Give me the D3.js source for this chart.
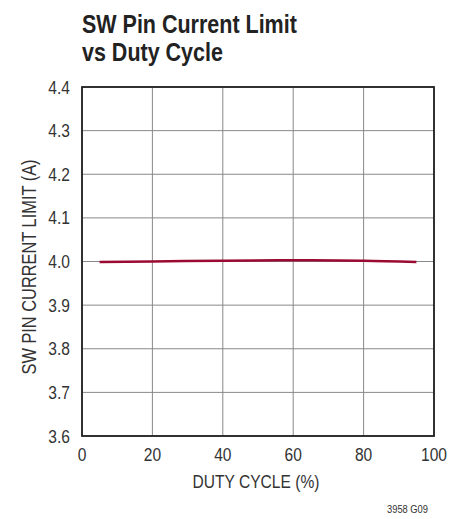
<!DOCTYPE html>
<html>
<head>
<meta charset="utf-8">
<script src="https://cdn.jsdelivr.net/npm/d3@7"></script>
<style>
  body { margin: 0; background: #fff; }
  text { font-family: "Liberation Sans", Arial, sans-serif; }
</style>
</head>
<body>
<div id="chart"></div>
<script>
// duty cycle (%) vs SW pin current limit (A)
var duty = [5, 20, 40, 60, 80, 95];
var limit = [3.999, 4.0, 4.002, 4.003, 4.002, 3.999];
var xTicks = [0, 20, 40, 60, 80, 100];
var yTicks = [3.6, 3.7, 3.8, 3.9, 4.0, 4.1, 4.2, 4.3, 4.4];

var width = 464, height = 519;
var margin = {left: 82, right: 30, top: 87, bottom: 83};

var svg = d3.select("#chart").append("svg")
    .attr("width", width)
    .attr("height", height);

var x = d3.scaleLinear().domain([0, 100]).range([margin.left, width - margin.right]);
var y = d3.scaleLinear().domain([3.6, 4.4]).range([height - margin.bottom, margin.top]);

// narrow text: the original uses a condensed face, so squeeze Liberation Sans
function label(px, py, str, size, sx, anchor, extra) {
    return svg.append("text")
        .attr("transform", "translate(" + px + "," + py + ")" + (extra || "") + " scale(" + sx + ",1)")
        .attr("text-anchor", anchor || "start")
        .style("font-size", size + "px")
        .attr("fill", "#333")
        .text(str);
}

// title
label(82, 33, "SW Pin Current Limit", 25, 0.86).style("font-weight", "bold").attr("fill", "#222");
label(82, 61, "vs Duty Cycle", 25, 0.86).style("font-weight", "bold").attr("fill", "#222");

// grid
svg.append("g").selectAll("line")
    .data(xTicks)
    .enter().append("line")
    .attr("x1", function(d) { return x(d); })
    .attr("x2", function(d) { return x(d); })
    .attr("y1", y(3.6))
    .attr("y2", y(4.4))
    .attr("stroke", "#888")
    .attr("stroke-width", 1);

svg.append("g").selectAll("line")
    .data(yTicks)
    .enter().append("line")
    .attr("x1", x(0))
    .attr("x2", x(100))
    .attr("y1", function(d) { return y(d); })
    .attr("y2", function(d) { return y(d); })
    .attr("stroke", "#888")
    .attr("stroke-width", 1);

// frame
svg.append("rect")
    .attr("x", x(0))
    .attr("y", y(4.4))
    .attr("width", x(100) - x(0))
    .attr("height", y(3.6) - y(4.4))
    .attr("fill", "none")
    .attr("stroke", "#222")
    .attr("stroke-width", 1.8);

// tick labels
yTicks.forEach(function(d) {
    label(70, y(d) + 6.5, d.toFixed(1), 19, 0.82, "end");
});
xTicks.forEach(function(d) {
    label(x(d), 461, d, 19, 0.82, "middle");
});

// axis titles
label(256, 488, "DUTY CYCLE (%)", 19, 0.82, "middle");
label(36, 267, "SW PIN CURRENT LIMIT (A)", 20, 0.82, "middle", " rotate(-90)");
label(428, 513, "3958 G09", 11, 0.85, "end");

// data line
var line = d3.line()
    .x(function(d) { return x(d[0]); })
    .y(function(d) { return y(d[1]); })
    .curve(d3.curveMonotoneX);

svg.append("path")
    .datum(d3.zip(duty, limit))
    .attr("d", line)
    .attr("fill", "none")
    .attr("stroke", "#9b0a33")
    .attr("stroke-width", 2.5);
</script>
</body>
</html>
